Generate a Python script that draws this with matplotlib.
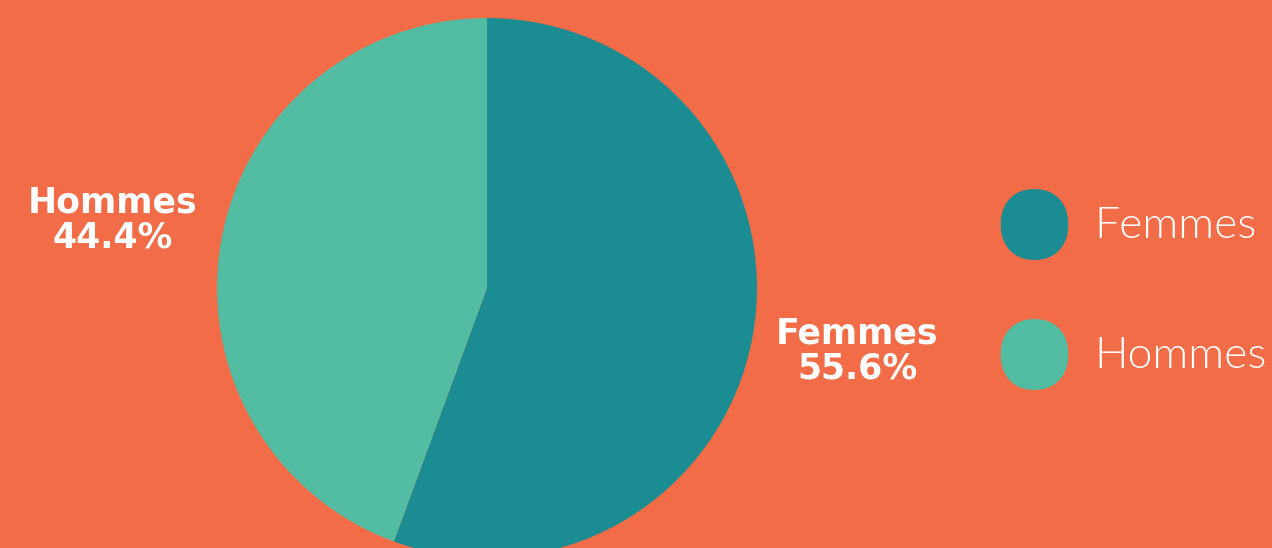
import numpy as np
import matplotlib as mpl
mpl.use('Agg')
import matplotlib.pyplot as plt
from matplotlib.lines import Line2D
from matplotlib.path import Path

labels = ["Femmes", "Hommes"]
values = [55.6, 44.4]
colors = ["#1B8C91", "#52BDA2"]
bg = "#F16C47"

fig = plt.figure(figsize=(12.72, 5.48), dpi=100, facecolor=bg)
W, H = 1272, 548

# pie: center (487, 288) px from top-left, radius 270 px
cx, cy, r = 487, 288, 270
ax = fig.add_axes([(cx - r) / W, (H - cy - r) / H, 2 * r / W, 2 * r / H])
ax.set_facecolor(bg)
ax.pie(values, colors=colors, startangle=90, counterclock=False, radius=1,
       wedgeprops=dict(linewidth=0))
ax.set_xlim(-1, 1)
ax.set_ylim(-1, 1)
ax.set_aspect('equal')
ax.axis('off')

# outside labels (fig pixel coords)
lab_pos = [(857, 351), (113, 220)]
for (x, y), lab, v in zip(lab_pos, labels, values):
    fig.text(x / W, 1 - y / H, "%s\n%.1f%%" % (lab, v), ha='center', va='center',
             color='white', fontsize=25, fontweight='heavy', family='DejaVu Sans',
             linespacing=1.05)

# squircle marker for the legend
t = np.linspace(0, 2 * np.pi, 200)
n = 2.2
sx = np.sign(np.cos(t)) * np.abs(np.cos(t)) ** (2 / n)
sy = np.sign(np.sin(t)) * np.abs(np.sin(t)) ** (2 / n)
squircle = Path(np.column_stack([sx, sy * 1.05]), closed=True)

leg_y = [224, 354]
for y, lab, c in zip(leg_y, labels, colors):
    fig.add_artist(Line2D([1034 / W], [1 - y / H], transform=fig.transFigure,
                          marker=squircle, markersize=51, color=c,
                          markeredgewidth=0, linestyle='none'))
    fig.text(1094 / W, 1 - (y + 3) / H, lab, ha='left', va='center', color='white',
             fontsize=32, family='Lato', fontweight=300)

fig.savefig("out.png", dpi=100, facecolor=bg)
